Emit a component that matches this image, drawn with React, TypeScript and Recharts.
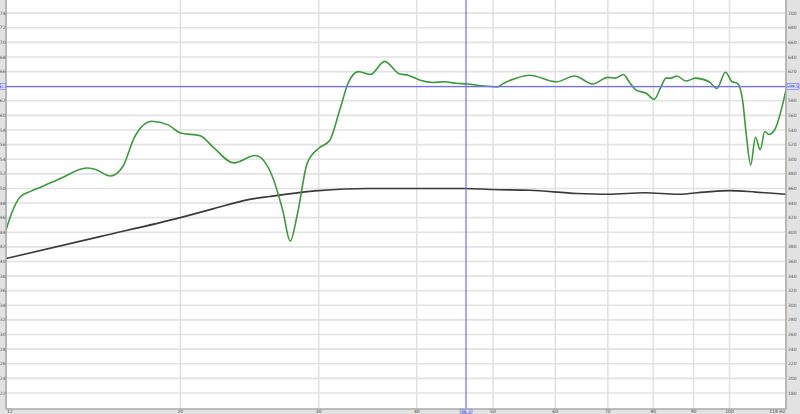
import { LineChart, Line, XAxis, YAxis, CartesianGrid, ReferenceLine } from 'recharts';

// green trace (Hz / dB)
const greenFreq = [
    12.0, 12.2, 12.5, 12.9, 13.3, 14.1, 15.2, 15.6, 16.3, 16.9, 17.5, 18.4, 19.3, 20.0, 21.2, 22.0,
    23.4, 24.9, 25.5, 26.2, 27.0, 27.6, 28.2, 29.0, 30.0, 31.0, 31.9, 32.7, 33.7, 34.9, 36.4, 38.0,
    39.0, 40.4, 41.9, 43.4, 44.9, 46.4, 48.0, 50.6, 51.6, 53.5, 55.7, 60.2, 63.5, 67.0, 70.0, 71.5,
    73.3, 74.5, 76.0, 78.4, 80.2, 81.8, 83.0, 84.2, 85.7, 88.0, 90.5, 94.2, 96.4, 98.8, 100.8, 102.3,
    103.9, 105.0, 106.4, 107.9, 109.4, 110.9, 112.2, 114.1, 118.0,
];
const greenDb = [
    44.3, 46.6, 48.8, 49.6, 50.2, 51.4, 52.8, 52.6, 51.7, 53.0, 57.1, 59.2, 58.7, 57.6, 57.2, 55.7,
    53.5, 54.5, 53.9, 51.6, 47.0, 42.8, 46.6, 53.4, 55.5, 56.6, 60.7, 64.4, 66.0, 65.6, 67.4, 65.7,
    65.5, 64.8, 64.5, 64.6, 64.4, 64.3, 64.1, 63.9, 64.4, 65.1, 65.5, 64.6, 65.4, 64.3, 65.2, 65.1,
    65.6, 64.6, 63.5, 63.0, 62.2, 63.9, 65.1, 65.1, 65.4, 64.7, 65.1, 64.6, 63.7, 65.9, 64.6, 64.4,
    62.1, 57.5, 53.2, 57.0, 55.3, 57.8, 57.4, 58.0, 63.5,
];

// black trace
const blackFreq = [12, 15.8, 20, 22, 24.5, 26, 30, 34.7, 40, 46, 50, 55.7, 64, 70, 78, 86, 93, 100, 108, 118];
const blackDb = [40.4, 43.4, 46.0, 47.2, 48.5, 48.9, 49.7, 50.0, 50.0, 50.0, 49.85, 49.75, 49.3, 49.2, 49.4, 49.2, 49.5, 49.7, 49.5, 49.2];

const freqTicks = [12, 20, 30, 40, 50, 60, 70, 80, 90, 100, 118];
// 64 / 600 are hidden behind the cursor readouts
const dbTicks = [22, 24, 26, 28, 30, 32, 34, 36, 38, 40, 42, 44, 46, 48, 50, 52, 54, 56, 58, 60, 62, 66, 68, 70, 72, 74];
const rightTicks = [180, 200, 220, 240, 260, 280, 300, 320, 340, 360, 380, 400, 420, 440, 460, 480, 500, 520, 540, 560, 580, 620, 640, 660, 680, 700];
const gridDb = [22, 24, 26, 28, 30, 32, 34, 36, 38, 40, 42, 44, 46, 48, 50, 52, 54, 56, 58, 60, 62, 64, 66, 68, 70, 72, 74];

const cursorFreq = 46.2;
const cursorDb = 63.95;

const greenData = greenFreq.map((f, i) => ({ f, v: greenDb[i] }));
const blackData = blackFreq.map((f, i) => ({ f, v: blackDb[i] }));

const FONT = 'DejaVu Sans, sans-serif';

function FreqTick(props: any) {
    const { x, y, payload } = props;
    const v = payload.value;
    const anchor = v === 12 ? 'start' : v === 118 ? 'end' : 'middle';
    const label = v === 118 ? '118 Hz' : String(v);
    return (
        <text x={v === 12 ? x + 1 : v === 118 ? x - 1 : x} y={y + 4} fontSize={4.5} fill="#444" textAnchor={anchor} fontFamily={FONT}>
            {label}
        </text>
    );
}

function HCursorLabel(props: any) {
    const { viewBox } = props;
    const { x, y, width } = viewBox;
    return (
        <g fontFamily={FONT}>
            <rect x={x - 6} y={y - 3} width={6} height={6} fill="#dde0ff" stroke="#6a6aff" strokeWidth={0.6} />
            <text x={x - 3} y={y + 1.2} fontSize={3} textAnchor="middle" fill="#3333aa">63.9</text>
            <rect x={x + width} y={y - 3} width={13} height={6} fill="#dde0ff" stroke="#6a6aff" strokeWidth={0.6} />
            <text x={x + width + 6.5} y={y + 1.6} fontSize={4.5} textAnchor="middle" fill="#3333aa">599.5</text>
        </g>
    );
}

function VCursorLabel(props: any) {
    const { viewBox } = props;
    const { x, y, height } = viewBox;
    return (
        <g fontFamily={FONT} fontSize={4.5}>
            <rect x={x - 6} y={y + height} width={12} height={4.5} fill="#dde0ff" stroke="#6a6aff" strokeWidth={0.6} />
            <text x={x} y={y + height + 3.8} textAnchor="middle" fill="#3333aa">46.2</text>
        </g>
    );
}

export default function App() {
    return (
        <div style={{ width: 800, height: 414, background: '#e2e2e2' }}>
            <style>{'body{margin:0}'}</style>
            <LineChart width={800} height={414} margin={{ top: 0, right: 0, bottom: 0, left: 0 }}>
                <CartesianGrid
                    yAxisId="left"
                    fill="#ffffff"
                    stroke="#e2e2e2"
                    strokeWidth={1.6}
                    horizontalValues={gridDb}
                />
                <XAxis
                    dataKey="f"
                    type="number"
                    scale="log"
                    domain={[12, 118]}
                    ticks={freqTicks}
                    allowDataOverflow
                    height={5}
                    tickLine={false}
                    tickSize={0}
                    tickMargin={0}
                    axisLine={{ stroke: '#a8a8a8', strokeWidth: 1.5 }}
                    tick={<FreqTick />}
                    interval={0}
                />
                <YAxis
                    yAxisId="left"
                    type="number"
                    domain={[19.8, 75.8]}
                    ticks={dbTicks}
                    allowDataOverflow
                    width={6}
                    tickLine={false}
                    tickSize={0}
                    tickMargin={0.5}
                    interval={0}
                    axisLine={{ stroke: '#a8a8a8', strokeWidth: 1.5 }}
                    tick={{ fontSize: 4.5, fill: '#555', fontFamily: FONT }}
                />
                <YAxis
                    yAxisId="right"
                    orientation="right"
                    type="number"
                    domain={[158, 718]}
                    ticks={rightTicks}
                    allowDataOverflow
                    width={14}
                    tickLine={false}
                    tickSize={0}
                    tickMargin={2}
                    interval={0}
                    axisLine={{ stroke: '#a8a8a8', strokeWidth: 1.5 }}
                    tick={{ fontSize: 4.5, fill: '#555', fontFamily: FONT }}
                />
                <Line
                    yAxisId="left"
                    data={blackData}
                    dataKey="v"
                    type="monotone"
                    stroke="#3a3a3a"
                    strokeWidth={1.6}
                    dot={false}
                    isAnimationActive={false}
                />
                <Line
                    yAxisId="left"
                    data={greenData}
                    dataKey="v"
                    type="monotone"
                    stroke="#3c9a3c"
                    strokeWidth={1.6}
                    dot={false}
                    isAnimationActive={false}
                />
                <ReferenceLine yAxisId="left" y={cursorDb} stroke="#6e6eff" strokeWidth={1.2} label={<HCursorLabel />} />
                <ReferenceLine yAxisId="left" x={cursorFreq} stroke="#6e6eff" strokeWidth={1.2} label={<VCursorLabel />} />
            </LineChart>
        </div>
    );
}
